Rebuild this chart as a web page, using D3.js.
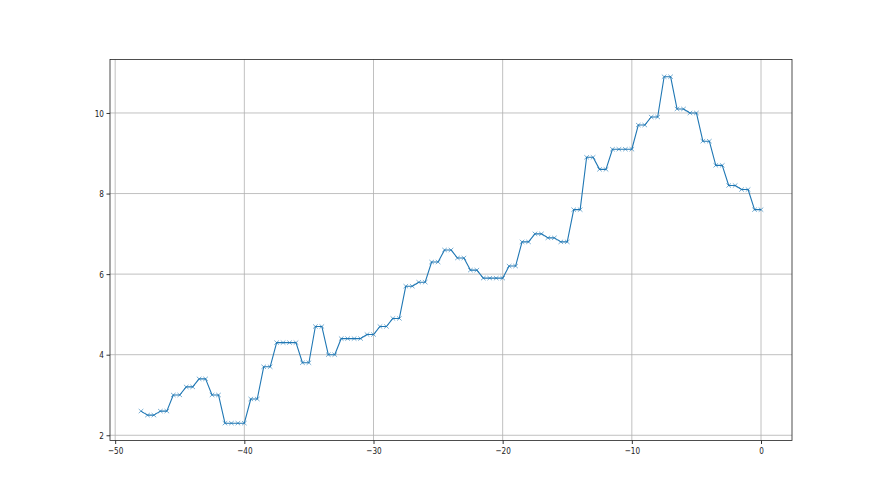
<!DOCTYPE html>
<html>
<head>
<meta charset="utf-8">
<script src="https://cdn.jsdelivr.net/npm/d3@7"></script>
<style>
  html, body { margin: 0; padding: 0; background: #fff; }
  svg { display: block; }
  text { font-family: "DejaVu Sans", sans-serif; }
</style>
</head>
<body>
<svg id="chart" width="880" height="495"></svg>
<script>
const xValues = [-48, -47.5, -47, -46.5, -46, -45.5, -45, -44.5, -44, -43.5, -43, -42.5, -42,
  -41.5, -41, -40.5, -40, -39.5, -39, -38.5, -38, -37.5, -37, -36.5, -36, -35.5, -35,
  -34.5, -34, -33.5, -33, -32.5, -32, -31.5, -31, -30.5, -30, -29.5, -29, -28.5, -28,
  -27.5, -27, -26.5, -26, -25.5, -25, -24.5, -24, -23.5, -23, -22.5, -22, -21.5, -21,
  -20.5, -20, -19.5, -19, -18.5, -18, -17.5, -17, -16.5, -16, -15.5, -15, -14.5, -14,
  -13.5, -13, -12.5, -12, -11.5, -11, -10.5, -10, -9.5, -9, -8.5, -8, -7.5, -7,
  -6.5, -6, -5.5, -5, -4.5, -4, -3.5, -3, -2.5, -2, -1.5, -1, -0.5, 0];
const yValues = [2.6, 2.5, 2.5, 2.6, 2.6, 3.0, 3.0, 3.2, 3.2, 3.4, 3.4, 3.0, 3.0,
  2.3, 2.3, 2.3, 2.3, 2.9, 2.9, 3.7, 3.7, 4.3, 4.3, 4.3, 4.3, 3.8, 3.8,
  4.7, 4.7, 4.0, 4.0, 4.4, 4.4, 4.4, 4.4, 4.5, 4.5, 4.7, 4.7, 4.9, 4.9,
  5.7, 5.7, 5.8, 5.8, 6.3, 6.3, 6.6, 6.6, 6.4, 6.4, 6.1, 6.1, 5.9, 5.9,
  5.9, 5.9, 6.2, 6.2, 6.8, 6.8, 7.0, 7.0, 6.9, 6.9, 6.8, 6.8, 7.6, 7.6,
  8.9, 8.9, 8.6, 8.6, 9.1, 9.1, 9.1, 9.1, 9.7, 9.7, 9.9, 9.9, 10.9, 10.9,
  10.1, 10.1, 10.0, 10.0, 9.3, 9.3, 8.7, 8.7, 8.2, 8.2, 8.1, 8.1, 7.6, 7.6];
const xTicks = [-50, -40, -30, -20, -10, 0];
const yTicks = [2, 4, 6, 8, 10];

(function () {
const data = xValues.map((x, i) => ({x, y: yValues[i]}));

const mLeft = 110, mRight = 792, mTop = 59.4, mBottom = 440.5;

const svg = d3.select("#chart");

const xMin = d3.min(xValues), xMax = d3.max(xValues);
const yMin = d3.min(yValues), yMax = d3.max(yValues);
const xPad = (xMax - xMin) * 0.05, yPad = (yMax - yMin) * 0.05;

const x = d3.scaleLinear().domain([xMin - xPad, xMax + xPad]).range([mLeft, mRight]);
const y = d3.scaleLinear().domain([yMin - yPad, yMax + yPad]).range([mBottom, mTop]);

const fmt = v => (v < 0 ? "\u2212" + Math.abs(v) : String(v));

// grid
const grid = svg.append("g");
grid.selectAll("line.gx").data(xTicks).join("line").attr("class", "gx")
  .attr("x1", d => x(d)).attr("x2", d => x(d))
  .attr("y1", mTop).attr("y2", mBottom)
  .attr("stroke", "#b0b0b0").attr("stroke-width", 0.8);
grid.selectAll("line.gy").data(yTicks).join("line").attr("class", "gy")
  .attr("x1", mLeft).attr("x2", mRight)
  .attr("y1", d => y(d)).attr("y2", d => y(d))
  .attr("stroke", "#b0b0b0").attr("stroke-width", 0.8);

// line
const line = d3.line().x(d => x(d.x)).y(d => y(d.y));
svg.append("path").datum(data)
  .attr("d", line)
  .attr("fill", "none")
  .attr("stroke", "#1f77b4")
  .attr("stroke-width", 1.1)
  .attr("stroke-linejoin", "round")
  .attr("stroke-linecap", "butt");

// markers 'x'
const mw = 2.3, mh = 2.1;
svg.append("g").selectAll("path").data(data).join("path")
  .attr("d", d => {
    const cx = x(d.x), cy = y(d.y);
    return `M${cx - mw},${cy - mh}L${cx + mw},${cy + mh}M${cx - mw},${cy + mh}L${cx + mw},${cy - mh}`;
  })
  .attr("stroke", "#1f77b4")
  .attr("stroke-opacity", 0.75)
  .attr("stroke-width", 0.8)
  .attr("fill", "none");

// axes
const xAxis = d3.axisBottom(x).tickValues(xTicks).tickFormat(fmt).tickSize(3.5).tickPadding(3);
const yAxis = d3.axisLeft(y).tickValues(yTicks).tickFormat(fmt).tickSize(3.5).tickPadding(2.5);

const gx = svg.append("g").attr("transform", `translate(0,${mBottom})`).call(xAxis);
const gy = svg.append("g").attr("transform", `translate(${mLeft},0)`).call(yAxis);
const sx = 0.76;
[gx, gy].forEach(g => {
  g.select(".domain").remove();
  g.selectAll(".tick line").attr("stroke", "#000").attr("stroke-width", 0.8);
  g.selectAll(".tick text").attr("fill", "#222").style("font-size", "9.6px")
    .style("font-family", "'DejaVu Sans', sans-serif")
    .attr("transform", function () {
      const xa = +d3.select(this).attr("x") || 0;
      return `translate(${xa * (1 - sx)},0) scale(${sx},1)`;
    });
});

// spines
svg.append("rect")
  .attr("x", mLeft).attr("y", mTop)
  .attr("width", mRight - mLeft).attr("height", mBottom - mTop)
  .attr("fill", "none").attr("stroke", "#222").attr("stroke-width", 0.8);
})();
</script>
</body>
</html>
